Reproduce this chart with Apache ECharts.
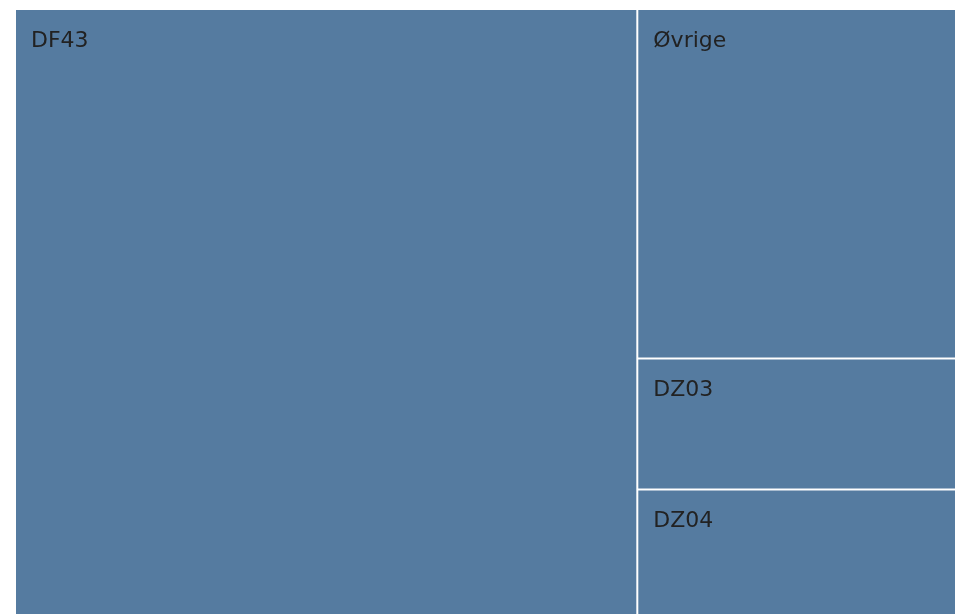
<!DOCTYPE html>
<html>
<head>
<meta charset="utf-8">
<script src="https://cdn.jsdelivr.net/npm/echarts@6/dist/echarts.min.js"></script>
<style>
html,body{margin:0;padding:0;background:#fff;}
#chart{width:955px;height:614px;}
</style>
</head>
<body>
<div id="chart"></div>
<script>
const categories = ['DF43', 'Øvrige', 'DZ03', 'DZ04'];
const values = [66.0, 19.5, 7.3, 7.0];

const chart = echarts.init(document.getElementById('chart'), null, {renderer: 'canvas'});
chart.setOption({
  animation: false,
  series: [{
    type: 'treemap',
    left: 16, top: 10, right: 0, bottom: 0,
    roam: false,
    nodeClick: false,
    breadcrumb: {show: false},
    squareRatio: 0.5 * (1 + Math.sqrt(5)),
    itemStyle: {color: '#557ba0', borderWidth: 0, gapWidth: 2, borderColor: '#fff'},
    levels: [
      {itemStyle: {borderWidth: 0, gapWidth: 2, borderColor: '#fff'}},
      {itemStyle: {borderWidth: 0, gapWidth: 0, color: '#557ba0'}}
    ],
    label: {
      show: true,
      position: [10, 15],
      fontFamily: 'DejaVu Sans',
      fontSize: 22,
      color: '#222222'
    },
    upperLabel: {show: false},
    data: categories.map((c, i) => ({name: c, value: values[i]}))
  }]
});
</script>
</body>
</html>
